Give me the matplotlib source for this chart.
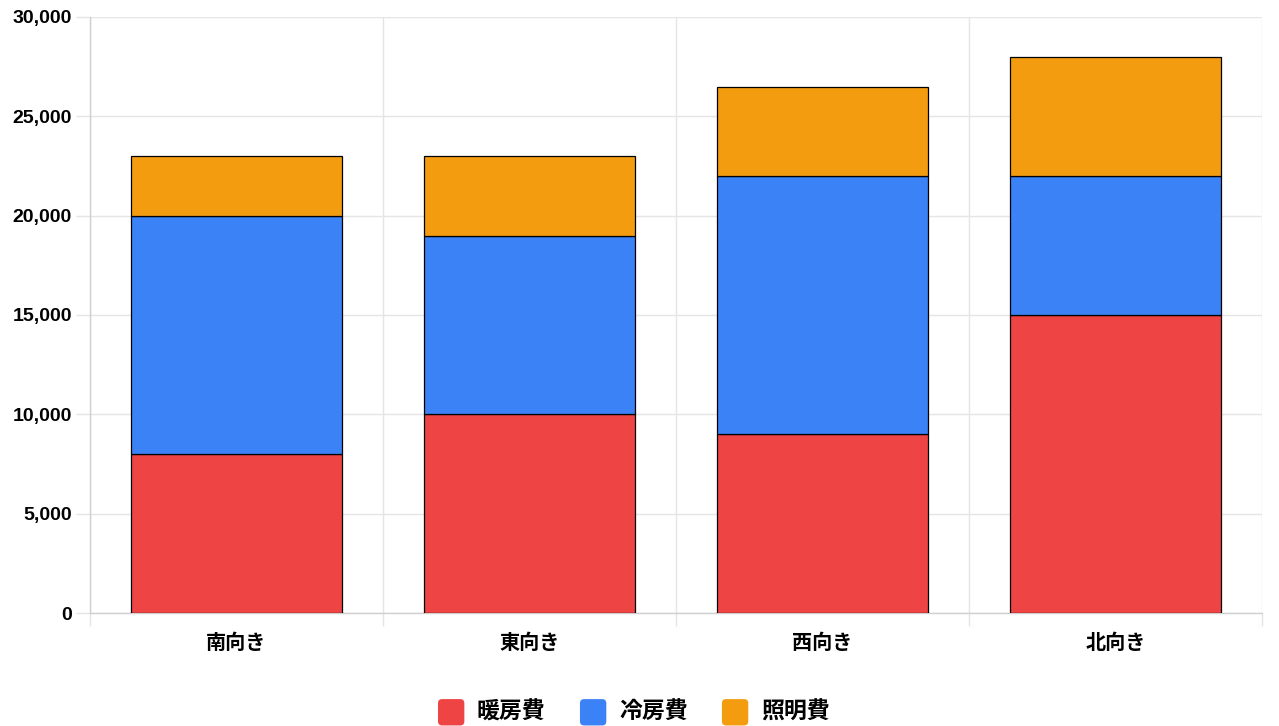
import numpy as np
import matplotlib
matplotlib.use("Agg")
import matplotlib.pyplot as plt
from matplotlib.patches import Patch, FancyBboxPatch
from matplotlib.legend_handler import HandlerPatch
from matplotlib.ticker import FuncFormatter

plt.rcParams['font.family'] = ['Noto Sans CJK JP', 'DejaVu Sans']

# data
categories = ['南向き', '東向き', '西向き', '北向き']
series_names = ['暖房費', '冷房費', '照明費']
heating = [8000, 10000, 9000, 15000]
cooling = [12000, 9000, 13000, 7000]
lighting = [3000, 4000, 4500, 6000]
colors = ['#ef4444', '#3b82f6', '#f39c0f']

grid_col = '#e5e5e5'
axis_col = '#d0d0d0'

fig = plt.figure(figsize=(12.79, 7.26), dpi=100)
ax = fig.add_axes([90/1279, 113/726, (1262-90)/1279, (613-17)/726])

x = np.arange(len(categories))
bottom = np.zeros(len(categories))
for vals, col in zip([heating, cooling, lighting], colors):
    ax.bar(x, vals, 0.72, bottom=bottom, color=col, edgecolor='black',
           linewidth=0.9, zorder=3)
    bottom += np.array(vals)

ax.set_xlim(-0.5, len(categories) - 0.5)
ax.set_ylim(0, 30000)
ax.set_yticks(np.arange(0, 30001, 5000))
ax.yaxis.set_major_formatter(FuncFormatter(lambda v, p: f'{int(v):,}'))

# x: grid lines at category boundaries, labels at centres
ax.set_xticks(np.arange(-0.5, len(categories), 1.0))
ax.set_xticklabels([])
ax.set_xticks(x, minor=True)
ax.set_xticklabels(categories, minor=True, fontsize=14.5, fontweight='bold')
ax.tick_params(axis='x', which='major', length=9, color=grid_col, width=1)
ax.tick_params(axis='x', which='minor', length=0, pad=14)
ax.tick_params(axis='y', length=10, color=grid_col, width=1, pad=3,
               labelsize=14)
for lab in ax.get_yticklabels():
    lab.set_fontweight('bold')
    lab.set_family(['Liberation Sans', 'DejaVu Sans'])

ax.grid(True, which='major', color=grid_col, linewidth=1, zorder=0)
ax.set_axisbelow(True)
for s in ['top', 'right']:
    ax.spines[s].set_visible(False)
for s in ['left', 'bottom']:
    ax.spines[s].set_color(axis_col)
    ax.spines[s].set_linewidth(1)


class RoundHandler(HandlerPatch):
    def create_artists(self, legend, orig_handle, xdescent, ydescent,
                       width, height, fontsize, trans):
        p = FancyBboxPatch((-xdescent, -ydescent - 2), width, width,
                           boxstyle='round,pad=0,rounding_size=3',
                           facecolor=orig_handle.get_facecolor(),
                           edgecolor='none', transform=trans)
        return [p]


handles = [Patch(facecolor=c) for c in colors]
fig.legend(handles, series_names, loc='center', bbox_to_anchor=(0.4955, 14/726),
           ncol=3, frameon=False, handler_map={Patch: RoundHandler()},
           handlelength=1.15, handleheight=1.15, handletextpad=0.55,
           columnspacing=1.5, prop={'size': 16.5, 'weight': 'bold'})

fig.savefig('out.png', dpi=100)
